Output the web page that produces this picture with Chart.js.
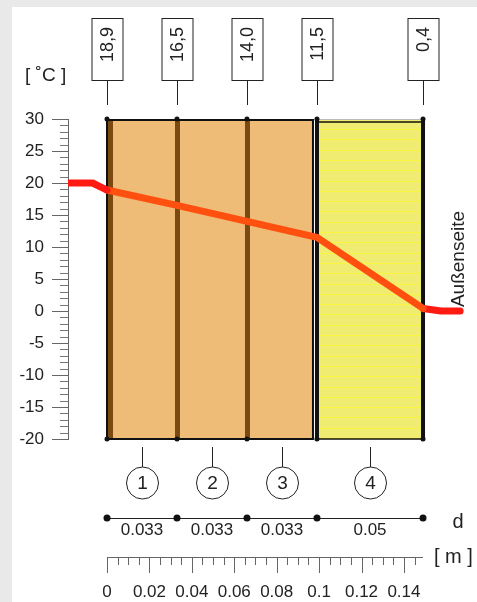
<!DOCTYPE html>
<html>
<head>
<title>Temperaturverlauf</title>
<script src="https://cdn.jsdelivr.net/npm/chart.js"></script>
<style>
  html, body { margin: 0; padding: 0; background: #e9e9e9; }
  #wrap { width: 477px; height: 602px; }
</style>
</head>
<body>
<div id="wrap"><canvas id="wall" width="477" height="602"></canvas></div>
<script>
// layer data
const layerNames = ['1', '2', '3', '4'];
const layerThickness = [0.033, 0.033, 0.033, 0.05];
const thicknessLabels = ['0.033', '0.033', '0.033', '0.05'];
const boundaryTemps = [18.9, 16.5, 14.0, 11.5, 0.4];
const layerFill = ['#eebc76', '#eebc76', '#eebc76', '#f0ec72'];

// air on both sides (x in m, outside the wall)
const insideAirX = [-0.0184, -0.0068];
const insideAirT = [20, 20];
const outsideAirX = [0.1575, 0.1665];
const outsideAirT = [0.0, 0.0];

// scales
const yTicks = [-20, -15, -10, -5, 0, 5, 10, 15, 20, 25, 30];
const rulerLabels = [0, 0.02, 0.04, 0.06, 0.08, 0.1, 0.12, 0.14];

// boundaries from thickness
const boundaryX = [0];
layerThickness.forEach(d => boundaryX.push(+(boundaryX[boundaryX.length - 1] + d).toFixed(4)));
const wallEnd = boundaryX[boundaryX.length - 1];

const wallLine = boundaryX.map((x, i) => ({ x: x, y: boundaryTemps[i] }));
const insideLine = insideAirX.map((x, i) => ({ x: x, y: insideAirT[i] }));
insideLine.push({ x: 0, y: boundaryTemps[0] });
const outsideLine = [{ x: wallEnd, y: boundaryTemps[boundaryTemps.length - 1] }];
outsideAirX.forEach((x, i) => outsideLine.push({ x: x, y: outsideAirT[i] }));

const FONT = '"Liberation Sans", Arial, sans-serif';

const wallPlugin = {
  id: 'wall',
  beforeDraw(chart) {
    const c = chart.ctx;
    c.save();
    c.fillStyle = '#e9e9e9';
    c.fillRect(0, 0, chart.width, chart.height);
    c.fillStyle = '#ffffff';
    c.fillRect(12, 7, chart.width - 12, chart.height - 7);
    c.restore();
  },
  beforeDatasetsDraw(chart) {
    const c = chart.ctx;
    const xs = chart.scales.x, ys = chart.scales.y;
    const top = ys.getPixelForValue(30), bot = ys.getPixelForValue(-20);
    c.save();
    // layer fills
    for (let i = 0; i < layerThickness.length; i++) {
      const l = xs.getPixelForValue(boundaryX[i]);
      const x1 = xs.getPixelForValue(boundaryX[i + 1]);
      const last = i === layerThickness.length - 1;
      const r = x1 - (i === 2 ? 4 : 0);
      c.fillStyle = layerFill[i];
      c.fillRect(l, top, r - l, bot - top);
      if (last) {
        // hatch lines in insulation
        c.strokeStyle = '#f9f540';
        c.lineWidth = 1;
        for (let y = top + 10; y < bot; y += 10.3) {
          c.beginPath();
          c.moveTo(l, Math.round(y) + 0.5);
          c.lineTo(r, Math.round(y) + 0.5);
          c.stroke();
        }
      }
    }
    // masonry block outline
    const m0 = xs.getPixelForValue(boundaryX[0]);
    const m1 = xs.getPixelForValue(boundaryX[3]) - 4;
    c.strokeStyle = '#111';
    c.lineWidth = 2;
    c.strokeRect(m0, top + 1, m1 - m0, bot - top - 1);
    // brown joints
    c.fillStyle = '#7b4a12';
    for (let i = 0; i < 3; i++) {
      const x = xs.getPixelForValue(boundaryX[i]);
      c.fillRect(x + (i === 0 ? 1 : -2), top + 2, 5, bot - top - 3);
    }
    // insulation outline
    const i0 = xs.getPixelForValue(boundaryX[3]);
    const i1 = xs.getPixelForValue(boundaryX[4]);
    c.strokeStyle = '#bbb';
    c.lineWidth = 1;
    c.beginPath();
    c.moveTo(i0, top + 0.5);
    c.lineTo(i1, top + 0.5);
    c.stroke();
    c.strokeStyle = '#111';
    c.lineWidth = 1.5;
    c.strokeRect(i0, top + 3, i1 - i0, bot - top - 3);
    c.fillStyle = '#111';
    c.fillRect(i0 - 2, top, 4, bot - top);
    c.fillRect(i1 - 2, top, 4, bot - top);
    // dots at boundary ends
    boundaryX.forEach(bx => {
      const x = xs.getPixelForValue(bx);
      [top, bot].forEach(y => {
        c.beginPath();
        c.arc(x, y, 2.5, 0, Math.PI * 2);
        c.fill();
      });
    });
    c.restore();
  },
  afterDraw(chart) {
    const c = chart.ctx;
    const xs = chart.scales.x, ys = chart.scales.y;
    c.save();
    // minor ticks on temperature axis
    c.strokeStyle = '#777';
    c.lineWidth = 1;
    for (let v = -20; v <= 30; v++) {
      if (v % 5 === 0) continue;
      const y = Math.round(ys.getPixelForValue(v)) + 0.5;
      c.beginPath();
      c.moveTo(60, y);
      c.lineTo(68, y);
      c.stroke();
    }
    // unit
    c.fillStyle = '#222';
    c.font = '19px ' + FONT;
    c.textAlign = 'left';
    c.textBaseline = 'middle';
    c.fillText('[ ˚C ]', 25, 76);

    // boundary temperature boxes
    c.strokeStyle = '#222';
    c.lineWidth = 1;
    boundaryX.forEach((bx, i) => {
      const x = Math.round(xs.getPixelForValue(bx)) + 0.5;
      c.strokeRect(x - 15.5, 18.5, 31, 62);
      c.beginPath();
      c.moveTo(x, 80.5);
      c.lineTo(x, 105);
      c.stroke();
      c.save();
      c.translate(x + 1, 27);
      c.rotate(-Math.PI / 2);
      c.textAlign = 'right';
      c.textBaseline = 'middle';
      c.font = '18px ' + FONT;
      c.fillText(boundaryTemps[i].toFixed(1).replace('.', ','), 0, 0);
      c.restore();
    });

    // layer numbers
    layerNames.forEach((n, i) => {
      const x = Math.round(xs.getPixelForValue((boundaryX[i] + boundaryX[i + 1]) / 2)) + 0.5;
      c.beginPath();
      c.moveTo(x, 447);
      c.lineTo(x, 467);
      c.stroke();
      c.beginPath();
      c.arc(x, 483, 16, 0, Math.PI * 2);
      c.fillStyle = '#fff';
      c.fill();
      c.stroke();
      c.fillStyle = '#222';
      c.font = '19px ' + FONT;
      c.textAlign = 'center';
      c.textBaseline = 'middle';
      c.fillText(n, x, 484);
    });

    // thickness row
    const dy = 518;
    c.beginPath();
    c.moveTo(xs.getPixelForValue(0), dy + 0.5);
    c.lineTo(xs.getPixelForValue(wallEnd), dy + 0.5);
    c.stroke();
    c.fillStyle = '#111';
    boundaryX.forEach(bx => {
      c.beginPath();
      c.arc(xs.getPixelForValue(bx), dy, 3.5, 0, Math.PI * 2);
      c.fill();
    });
    c.fillStyle = '#222';
    c.font = '17px ' + FONT;
    thicknessLabels.forEach((t, i) => {
      const x = xs.getPixelForValue((boundaryX[i] + boundaryX[i + 1]) / 2);
      c.fillText(t, x, 530);
    });
    c.font = '20px ' + FONT;
    c.fillText('d', 458, 522);

    // ruler
    const ry = 557.5;
    c.strokeStyle = '#666';
    c.beginPath();
    c.moveTo(xs.getPixelForValue(0), ry);
    c.lineTo(xs.getPixelForValue(wallEnd), ry);
    c.stroke();
    for (let k = 0; k * 0.005 <= wallEnd + 1e-9; k++) {
      const x = Math.round(xs.getPixelForValue(k * 0.005)) + 0.5;
      c.beginPath();
      c.moveTo(x, ry);
      c.lineTo(x, k % 4 === 0 ? 573 : 565);
      c.stroke();
    }
    c.fillStyle = '#222';
    c.font = '17px ' + FONT;
    rulerLabels.forEach(v => {
      c.fillText(String(v), xs.getPixelForValue(v), 592);
    });
    c.textAlign = 'left';
    c.font = '20px ' + FONT;
    c.fillText('[ m ]', 434, 557);

    // outside label
    c.save();
    c.translate(459, 259);
    c.rotate(-Math.PI / 2);
    c.textAlign = 'center';
    c.font = '19px ' + FONT;
    c.fillText('Außenseite', 0, 0);
    c.restore();
    c.restore();
  }
};

new Chart(document.getElementById('wall'), {
  type: 'line',
  data: {
    datasets: [
      { data: insideLine, borderColor: '#ff1a12', borderWidth: 7 },
      { data: wallLine, borderColor: '#ff5010', borderWidth: 7 },
      { data: outsideLine, borderColor: '#ff1a12', borderWidth: 7 }
    ]
  },
  options: {
    responsive: false,
    animation: false,
    devicePixelRatio: 1,
    layout: { padding: { left: 12, top: 119, right: 7, bottom: 163 } },
    elements: {
      point: { radius: 0 },
      line: { tension: 0, borderCapStyle: 'round', borderJoinStyle: 'round' }
    },
    plugins: { legend: { display: false }, tooltip: { enabled: false } },
    scales: {
      x: {
        type: 'linear',
        display: false,
        min: -0.01839,
        max: 0.17115
      },
      y: {
        type: 'linear',
        min: -20,
        max: 30,
        afterFit: s => { s.width = 56; },
        afterBuildTicks: s => { s.ticks = yTicks.map(v => ({ value: v })); },
        border: { display: true, color: '#666', width: 1 },
        grid: { drawOnChartArea: false, drawTicks: true, tickLength: 16, color: '#666' },
        ticks: { padding: 8, color: '#222', font: { family: FONT, size: 17 } }
      }
    }
  },
  plugins: [wallPlugin]
});
</script>
</body>
</html>
